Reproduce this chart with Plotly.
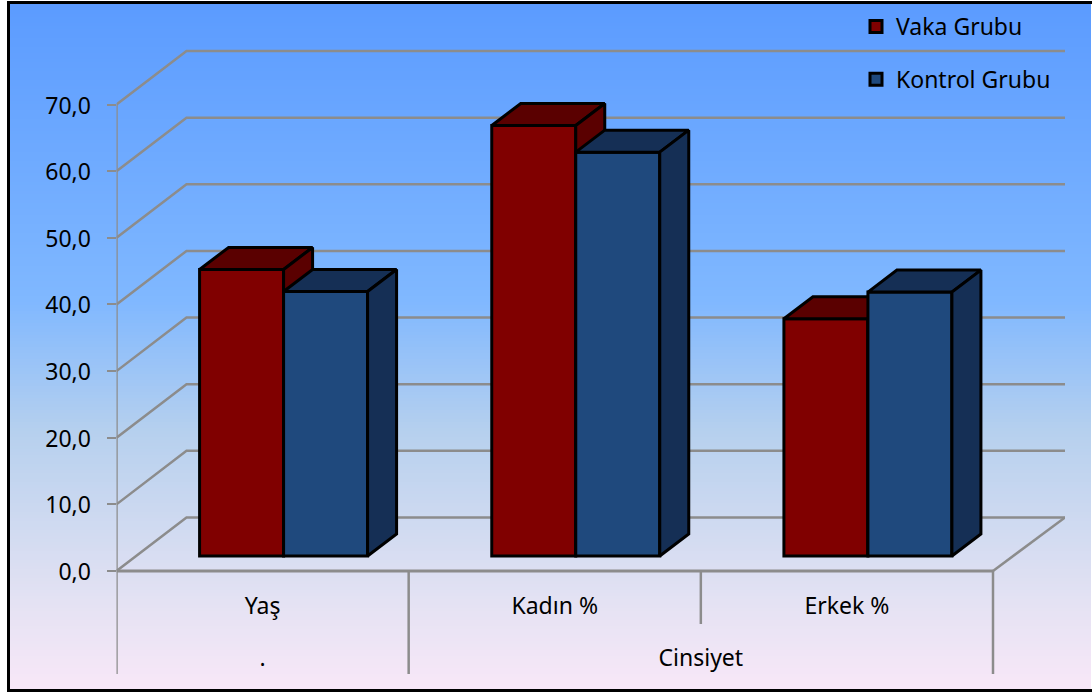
import plotly.graph_objects as go

# ---- data ----
categories = ["Yaş", "Kadın %", "Erkek %"]
group_labels = [".", "Cinsiyet"]
group_positions = [0.5, 2.0]
series_names = ["Vaka Grubu", "Kontrol Grubu"]
vaka = [43.0, 64.6, 35.6]
kontrol = [39.7, 60.6, 39.6]
tick_values = [0, 10, 20, 30, 40, 50, 60, 70]
tick_labels = ["0,0", "10,0", "20,0", "30,0", "40,0", "50,0", "60,0", "70,0"]

# ---- geometry (pixels of the page) ----
W, H = 1092, 695
PX_LEFT, PX_RIGHT = 116.5, 1065
PX_CAT = (993 - 116.5) / 3
PX_ZERO, PX_SEVENTY = 571, 104.5
PX_BOTTOM, PX_TOP = 674, 45
PX_UNIT = (PX_ZERO - PX_SEVENTY) / 70
xr = [0, (PX_RIGHT - PX_LEFT) / PX_CAT]
yr = [-(PX_BOTTOM - PX_ZERO) / PX_UNIT, (PX_ZERO - PX_TOP) / PX_UNIT]
wall_dx, wall_dy = 70 / PX_CAT, 53.5 / PX_UNIT
bar_off_x, bar_base = 21 / PX_CAT, 15 / PX_UNIT
bar_w = 84 / PX_CAT
dep_x, dep_y = 29 / PX_CAT, 22 / PX_UNIT
GRID = "#8c8c8c"
FONT = "Noto Sans"

fig = go.Figure()


def line(xs, ys, color=GRID, width=2.5):
    fig.add_trace(go.Scatter(x=xs, y=ys, mode="lines", showlegend=False, hoverinfo="skip",
                             cliponaxis=False, line=dict(color=color, width=width)))


# back wall, side wall and floor
for v in tick_values:
    line([0, wall_dx, xr[1]], [v, v + wall_dy, v + wall_dy])
line([xr[1], 3], [wall_dy, 0])
line([0, 3], [0, 0], width=3)
line([0, 0], [yr[0], tick_values[-1]])
line([1, 1], [yr[0], 0])
line([2, 2], [-53 / PX_UNIT, 0])
line([3, 3], [yr[0], 0])

# category labels
fig.add_trace(go.Scatter(x=[i + 0.5 for i in range(3)], y=[-37 / PX_UNIT] * 3, text=categories,
                         mode="text", showlegend=False, hoverinfo="skip", cliponaxis=False,
                         textfont=dict(family=FONT, size=23, color="black")))
fig.add_trace(go.Scatter(x=group_positions, y=[-89 / PX_UNIT] * 2, text=group_labels,
                         mode="text", showlegend=False, hoverinfo="skip", cliponaxis=False,
                         textfont=dict(family=FONT, size=23, color="black")))


def bars(values, name, front, dark, side_sign, axis):
    xa, ya = "x" + axis, "y" + axis
    centers = [i + 0.5 + bar_off_x + side_sign * bar_w / 2 for i in range(3)]
    fig.add_trace(go.Bar(x=centers, y=values, base=[bar_base] * 3, width=bar_w, name=name,
                         legendgroup=name, xaxis=xa, yaxis=ya, hoverinfo="skip",
                         marker=dict(color=front, line=dict(color="black", width=3))))
    for c, v in zip(centers, values):
        l, r, b, t = c - bar_w / 2, c + bar_w / 2, bar_base, bar_base + v
        polys = [([l, l + dep_x, r + dep_x, r, l], [t, t + dep_y, t + dep_y, t, t]),
                 ([r, r + dep_x, r + dep_x, r, r], [b, b + dep_y, t + dep_y, t, b])]
        for px, py in polys:
            fig.add_trace(go.Scatter(x=px, y=py, mode="lines", fill="toself", fillcolor=dark,
                                     line=dict(color="black", width=3), showlegend=False,
                                     hoverinfo="skip", cliponaxis=False, xaxis=xa, yaxis=ya))


bars(vaka, series_names[0], "#800000", "#5a0000", -1, "2")
bars(kontrol, series_names[1], "#1f497d", "#152f55", 1, "3")

# page gradient, drawn as thin strips
stops = [(0, (91, 155, 255)), (300, (128, 184, 255)), (430, (182, 208, 238)),
         (600, (228, 226, 243)), (695, (250, 232, 248))]


def grad(y):
    for (y0, c0), (y1, c1) in zip(stops, stops[1:]):
        if y0 <= y <= y1:
            t = (y - y0) / (y1 - y0)
            return "rgb(%d,%d,%d)" % tuple(round(a + (b - a) * t) for a, b in zip(c0, c1))
    return "white"


BL, BR, BT, BB = 8.5, 1091, 2.5, 690.5
shapes = []
for y in range(int(BT), int(BB), 3):
    shapes.append(dict(type="rect", xref="paper", yref="paper", layer="below",
                       x0=BL / W, x1=BR / W, y0=1 - y / H, y1=1 - (y + 3) / H,
                       fillcolor=grad(y), line_width=0))
shapes.append(dict(type="rect", xref="paper", yref="paper", layer="below",
                   x0=BL / W, x1=(BR + 3) / W, y0=1 - BB / H, y1=1 - BT / H,
                   fillcolor="rgba(0,0,0,0)", line=dict(color="black", width=3)))

dom_x = [PX_LEFT / W, PX_RIGHT / W]
dom_y = [1 - PX_BOTTOM / H, 1 - PX_TOP / H]
hidden = dict(visible=False, fixedrange=True)
fig.update_layout(
    width=W, height=H, margin=dict(l=0, r=0, t=0, b=0),
    paper_bgcolor="white", plot_bgcolor="rgba(0,0,0,0)",
    barmode="overlay", shapes=shapes,
    font=dict(family=FONT, color="black"),
    xaxis=dict(domain=dom_x, range=xr, showgrid=False, zeroline=False, showline=False,
               showticklabels=False, ticks="", fixedrange=True),
    yaxis=dict(domain=dom_y, range=yr, tickvals=tick_values, ticktext=tick_labels,
               ticks="outside", ticklen=9, tickwidth=2, tickcolor=GRID, showgrid=False,
               zeroline=False, showline=False, tickfont=dict(family=FONT, size=23, color="black"),
               fixedrange=True, ticklabelstandoff=11, ticklabelshift=1),
    xaxis2=dict(overlaying="x", range=xr, **hidden),
    yaxis2=dict(overlaying="y", range=yr, **hidden),
    xaxis3=dict(overlaying="x", range=xr, **hidden),
    yaxis3=dict(overlaying="y", range=yr, **hidden),
    legend=dict(x=856 / W, y=1 - 5 / H, xanchor="left", yanchor="top", traceorder="grouped",
                tracegroupgap=20, bgcolor="rgba(0,0,0,0)", font=dict(family=FONT, size=23, color="black")),
)

fig.write_html("out.html", config=dict(displayModeBar=False),
               post_script="document.body.style.margin='0';document.body.style.overflow='hidden';")
